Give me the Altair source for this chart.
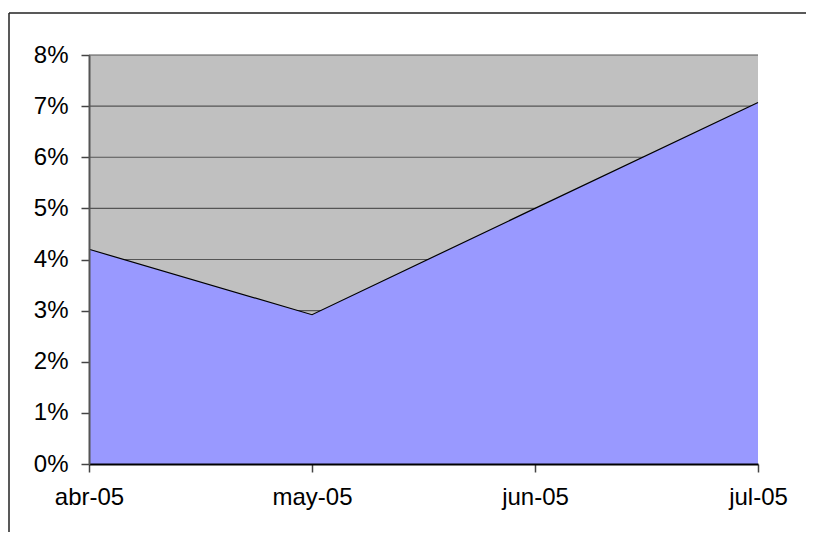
import altair as alt
import pandas as pd

months = ["abr-05", "may-05", "jun-05", "jul-05"]
values = [0.042, 0.0292, 0.050, 0.0707]
tick_values = [0, 0.01, 0.02, 0.03, 0.04, 0.05, 0.06, 0.07, 0.08]
grid_values = [0.01, 0.02, 0.03, 0.04, 0.05, 0.06, 0.07, 0.08]

df = pd.DataFrame({"month": months, "value": values})
grid_df = pd.DataFrame({"value": grid_values})

FONT = "Liberation Sans"
W, H = 669, 409

x_enc = alt.X("month:O", sort=months, scale=alt.Scale(type="point", padding=0),
              axis=alt.Axis(title=None, labelAngle=0, labelFontSize=24, labelFont=FONT,
                            labelColor="black", tickSize=8, tickColor="#444", tickWidth=1.5,
                            domainColor="black", domainWidth=2, labelPadding=13,
                            grid=False, zindex=1))
y_scale = alt.Scale(domain=[0, 0.08], nice=False, zero=True)
y_axis = alt.Axis(title=None, format=".0%", values=tick_values,
                  labelFontSize=24, labelFont=FONT, labelColor="black",
                  tickSize=8, tickColor="#444", tickWidth=1.5,
                  domainColor="#555", domainWidth=2, labelPadding=13,
                  grid=False, zindex=1)

grid = alt.Chart(grid_df).mark_rule(color="#555555", strokeWidth=1.2).encode(
    y=alt.Y("value:Q", scale=y_scale, axis=y_axis),
    x=alt.value(0), x2=alt.value(W),
)

area = alt.Chart(df).mark_area(color="#9999FF", opacity=1,
                               line=alt.LineConfig(color="black", strokeWidth=1.2)).encode(
    x=x_enc,
    y=alt.Y("value:Q", scale=y_scale, axis=y_axis),
)

border_data = alt.Data(values=[{"a": 1}])
top_border = alt.Chart(border_data).mark_rule(color="#222", strokeWidth=1.5).encode(
    x=alt.value(-80), x2=alt.value(1000), y=alt.value(-42))
left_border = alt.Chart(border_data).mark_rule(color="#222", strokeWidth=1.5).encode(
    x=alt.value(-80), y=alt.value(-42), y2=alt.value(1000))

chart = alt.layer(grid, area, top_border, left_border).properties(
    width=W, height=H,
    padding={"left": 81, "top": 47, "right": 48, "bottom": 68},
    autosize=alt.AutoSizeParams(type="none"),
).configure(background="white").configure_view(fill="#C0C0C0", stroke=None)

chart.save("out.html", embed_options={"renderer": "svg", "actions": False})
